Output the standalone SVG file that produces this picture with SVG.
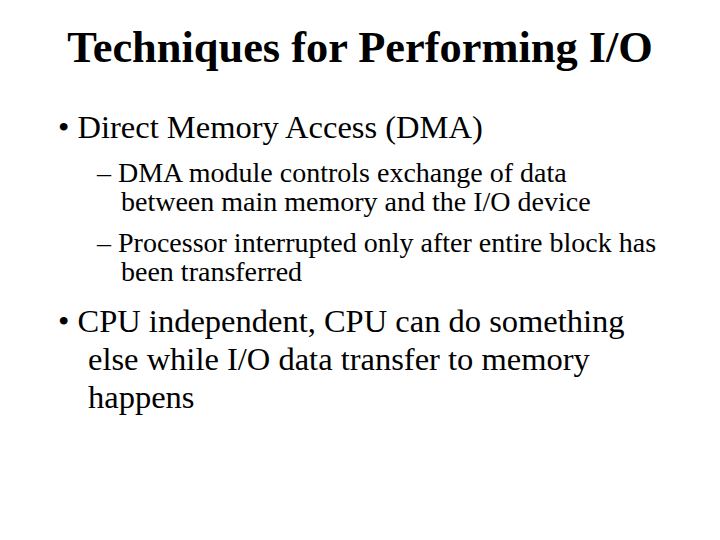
<svg xmlns="http://www.w3.org/2000/svg" width="720" height="540" viewBox="0 0 720 540">
<style>
text{font-family:"Liberation Serif","Times New Roman",serif;fill:#000}
.t{font-size:44.4px;font-weight:bold}
.b{font-size:32.5px}
.s{font-size:28px}
</style>
<rect width="720" height="540" fill="#fff"/>
<text class="t" x="360" y="62" text-anchor="middle">Techniques for Performing I/O</text>
<text class="b" x="58" y="138">• Direct Memory Access (DMA)</text>
<text class="s" x="97" y="182">– DMA module controls exchange of data</text>
<text class="s" x="121" y="211">between main memory and the I/O device</text>
<text class="s" x="97" y="252">– Processor interrupted only after entire block has</text>
<text class="s" x="121" y="281">been transferred</text>
<text class="b" x="58" y="332">• CPU independent, CPU can do something</text>
<text class="b" x="88" y="370">else while I/O data transfer to memory</text>
<text class="b" x="88" y="408">happens</text>
</svg>
